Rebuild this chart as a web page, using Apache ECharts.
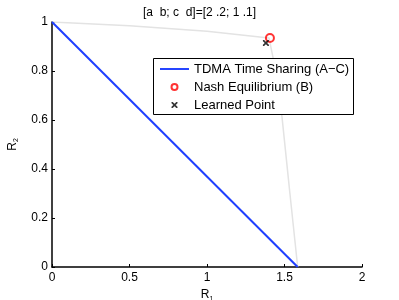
<!DOCTYPE html>
<html><head><meta charset="utf-8">
<script src="https://cdn.jsdelivr.net/npm/echarts@6/dist/echarts.min.js"></script>
<style>html,body{margin:0;padding:0;background:#fff}#c{width:399px;height:300px}</style>
</head><body><div id="c"></div>
<script>
const titleText = '[a  b; c  d]=[2 .2; 1 .1]';
const xTicks = [0, 0.5, 1, 1.5, 2];
const yTicks = [0, 0.2, 0.4, 0.6, 0.8, 1];
const regionBoundary = [[0, 1], [0.5, 0.985], [1.0, 0.962], [1.4, 0.935], [1.45, 0.78], [1.484, 0.612], [1.535, 0.3], [1.585, 0]];
const tdmaLine = [[0, 1], [1.585, 0]];
const nashPoint = [[1.406, 0.935]];
const learnedPoint = [[1.38, 0.914]];
const seriesNames = ['TDMA Time Sharing (A\u2212C)', 'Nash Equilibrium (B)', 'Learned Point'];

const font = 'Liberation Sans, Arial, Helvetica, sans-serif';
const chart = echarts.init(document.getElementById('c'), null, {renderer: 'canvas'});
const xMark = 'path://M0,0 L2,0 L5,3 L8,0 L10,0 L10,2 L7,5 L10,8 L10,10 L8,10 L5,7 L2,10 L0,10 L0,8 L3,5 L0,2 Z';
const lineIcon = 'path://M0,0 L30,0 L30,2 L0,2 Z';
chart.setOption({
  animation: false,
  textStyle: {fontFamily: font},
  title: {text: titleText, left: 'center', top: 2, textStyle: {fontSize: 12, fontWeight: 'normal', color: '#000', fontFamily: font}},
  grid: {left: 52, right: 37, top: 22, bottom: 33, outerBoundsMode: 'none', containLabel: false},
  xAxis: {
    type: 'value', min: 0, max: 2, interval: 0.5,
    name: '{a|R}{b|1}', nameLocation: 'middle', nameGap: 18,
    nameTextStyle: {rich: {a: {fontSize: 12, color: '#000', fontFamily: font}, b: {fontSize: 7, color: '#000', padding: [8, 0, 0, 0], fontFamily: font}}},
    axisLine: {lineStyle: {color: '#000', width: 1.5}},
    axisTick: {inside: true, length: 3, lineStyle: {color: '#000'}},
    axisLabel: {color: '#000', fontSize: 12, margin: 5, fontFamily: font, formatter: v => xTicks.includes(v) ? String(v) : ''},
    splitLine: {show: false}
  },
  yAxis: {
    type: 'value', min: 0, max: 1, interval: 0.2,
    name: '{a|R}{b|2}', nameLocation: 'middle', nameGap: 32, nameRotate: 90,
    nameTextStyle: {rich: {a: {fontSize: 12, color: '#000', fontFamily: font}, b: {fontSize: 7, color: '#000', padding: [8, 0, 0, 0], fontFamily: font}}},
    axisLine: {lineStyle: {color: '#000', width: 1.5}},
    axisTick: {inside: true, length: 3, lineStyle: {color: '#000'}},
    axisLabel: {color: '#000', fontSize: 12, margin: 4, fontFamily: font, formatter: v => { const t = yTicks.find(k => Math.abs(k - v) < 1e-9); return t === undefined ? '' : String(t); }},
    splitLine: {show: false}
  },
  legend: {
    left: 160, top: 61, orient: 'vertical', itemWidth: 29, itemHeight: 6, itemGap: 2, padding: 0,
    textStyle: {fontSize: 13, color: '#000', fontFamily: font, padding: [0, 0, 0, 0], lineHeight: 16},
    data: [
      {name: seriesNames[0], icon: lineIcon, itemStyle: {color: '#1f3fff', borderWidth: 0}},
      {name: seriesNames[1], icon: 'circle', itemStyle: {color: '#fff', borderColor: '#ff0000', borderWidth: 2}},
      {name: seriesNames[2], icon: xMark, itemStyle: {color: '#000', borderWidth: 0}}
    ]
  },
  graphic: [{type: 'rect', shape: {x: 153.5, y: 58.5, width: 200, height: 56}, style: {fill: '#fff', stroke: '#000', lineWidth: 1}, z: 3}],
  series: [
    {type: 'line', name: 'boundary', data: regionBoundary, symbol: 'none', lineStyle: {color: '#e3e3e3', width: 1.5}, z: 1},
    {type: 'line', name: seriesNames[0], data: tdmaLine, symbol: 'none', lineStyle: {color: '#1f3fff', width: 2}, itemStyle: {color: '#1f3fff'}, z: 2},
    {type: 'scatter', name: seriesNames[1], data: nashPoint, symbol: 'circle', symbolSize: 8, itemStyle: {color: 'rgba(255,255,255,0)', borderColor: '#ff0000', borderWidth: 2}, z: 2},
    {type: 'scatter', name: seriesNames[2], data: learnedPoint, symbol: xMark, symbolSize: 6, itemStyle: {color: '#000'}, z: 2}
  ]
});
</script></body></html>
